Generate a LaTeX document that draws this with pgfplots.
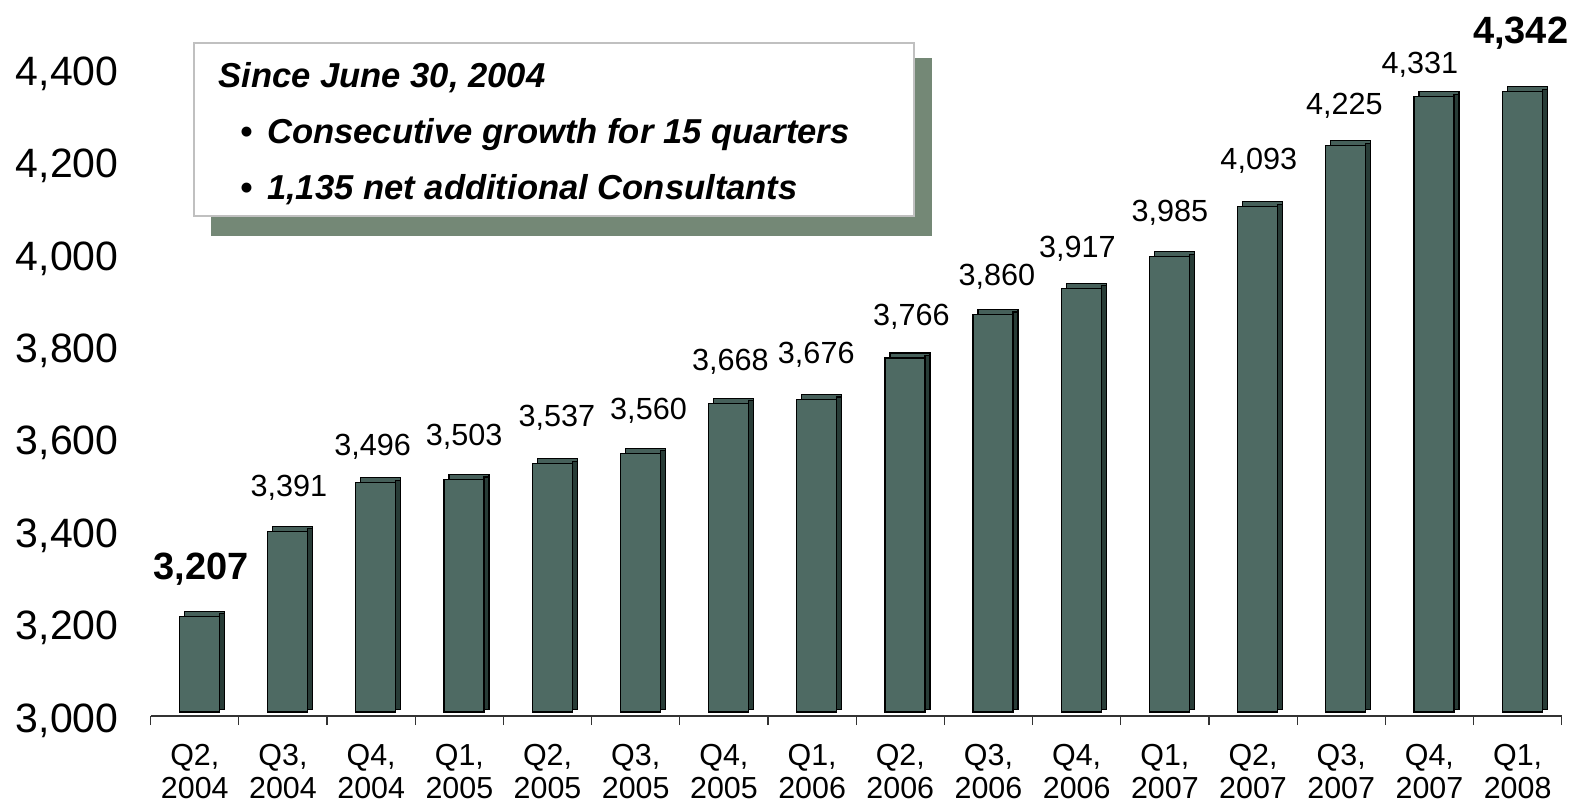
\documentclass[border=0pt]{standalone}
\usepackage{fontspec}
\setmainfont{Liberation Sans}
\usepackage{pgfplots}
\pgfplotsset{compat=1.18}
\usepackage{pgfplotstable}
\definecolor{barfront}{RGB}{78,106,99}
\definecolor{bartop}{RGB}{70,96,90}
\definecolor{barside}{RGB}{40,60,55}
\definecolor{shadowcol}{RGB}{116,136,118}
\definecolor{boxborder}{RGB}{192,192,192}

\pgfplotstableread{
x v
0 3207
1 3391
2 3496
3 3503
4 3537
5 3560
6 3668
7 3676
8 3766
9 3860
10 3917
11 3985
12 4093
13 4225
14 4331
15 4342
}\bars

\pgfplotstableread{
x ly v
1.068 3499 3391
2.016 3586 3496
3.055 3608 3503
4.106 3649 3537
5.145 3665 3560
6.074 3771 3668
7.047 3786 3676
8.125 3867 3766
9.095 3954 3860
10.009 4015 3917
11.058 4093 3985
12.065 4205 4093
13.035 4325 4225
13.892 4414 4331
}\labs

\pgfplotstableread{
x ly v
0.075 3325 3207
15.034 4484 4342
}\boldlabs

\begin{document}
\begin{tikzpicture}
\path[use as bounding box] (-75.35pt,-44pt) rectangle (714.15pt,358pt);
\begin{axis}[
  at={(0pt,0pt)}, anchor=south west,
  scale only axis, width=705.5pt, height=351.27pt,
  xmin=-0.5, xmax=15.5, ymin=3000, ymax=4520,
  axis x line*=bottom, axis y line*=left,
  y axis line style={draw=none},
  x axis line style={black!80, line width=0.6pt},
  ytick={3000,3200,...,4400},
  ytick style={draw=none},
  xtick={0,...,15},
  major x tick style={draw=none},
  major tick length=0pt,
  minor xtick={-0.5,0.5,...,15.5},
  minor x tick style={black!80, line width=0.6pt},
  minor tick length=4.5pt, tick align=outside,
  xticklabels={{Q2,\\2004},{Q3,\\2004},{Q4,\\2004},{Q1,\\2005},{Q2,\\2005},{Q3,\\2005},{Q4,\\2005},{Q1,\\2006},{Q2,\\2006},{Q3,\\2006},{Q4,\\2006},{Q1,\\2007},{Q2,\\2007},{Q3,\\2007},{Q4,\\2007},{Q1,\\2008}},
  xticklabel style={font=\fontsize{15.2}{16.5}\selectfont, align=center, anchor=north, inner sep=0pt, text depth=0pt, yshift=-14pt},
  yticklabel style={font=\fontsize{20.5}{24}\selectfont, anchor=east, inner sep=0pt, text depth=0pt, xshift=-15.85pt, yshift=-1pt},
  /pgf/number format/1000 sep={,},
  /pgf/number format/assume math mode=true,
]
% top face layer (back copy of the bar)
\addplot[ybar, bar width=20pt, bar shift=4.8pt, yshift=4.5pt, fill=bartop, draw=black, line width=0.6pt] table[x=x,y=v]{\bars};
% side face layer
\addplot[ybar, bar width=2.5pt, bar shift=13.55pt, yshift=3.25pt, fill=barside, draw=black, line width=0.6pt] table[x=x,y=v]{\bars};
% front face
\addplot[ybar, bar width=20pt, bar shift=2.3pt, yshift=2pt, fill=barfront, draw=black, line width=0.6pt] table[x=x,y=v]{\bars};
\addplot[only marks, mark=none, point meta=explicit, nodes near coords,
  nodes near coords align={center},
  every node near coord/.append style={font=\fontsize{15.3}{18}\selectfont, anchor=center, text depth=0pt, inner sep=0pt, /pgf/number format/1000 sep={,}, /pgf/number format/assume math mode=true}]
  table[x=x,y=ly,meta=v]{\labs};
\addplot[only marks, mark=none, point meta=explicit, nodes near coords,
  nodes near coords align={center},
  every node near coord/.append style={font=\fontsize{19}{22}\selectfont\bfseries, anchor=center, text depth=0pt, inner sep=0pt, /pgf/number format/1000 sep={,}, /pgf/number format/assume math mode=true}]
  table[x=x,y=ly,meta=v]{\boldlabs};
\end{axis}
\fill[shadowcol] (30.4pt,240.2pt) rectangle (390.4pt,328.8pt);
\filldraw[fill=white, draw=boxborder, line width=1pt] (21.85pt,249.75pt) rectangle (381.85pt,336.35pt);
\begin{scope}[every node/.style={anchor=base west, inner sep=0pt, font=\fontsize{17.3}{20}\selectfont\bfseries\itshape}]
\node at (33.65pt,314.25pt) {Since June 30, 2004};
\node at (44.65pt,286.35pt) {•};
\node at (58pt,286.35pt) {Consecutive growth for 15 quarters};
\node at (44.65pt,258pt) {•};
\node at (58pt,258pt) {1,135 net additional Consultants};
\end{scope}
\end{tikzpicture}
\end{document}
